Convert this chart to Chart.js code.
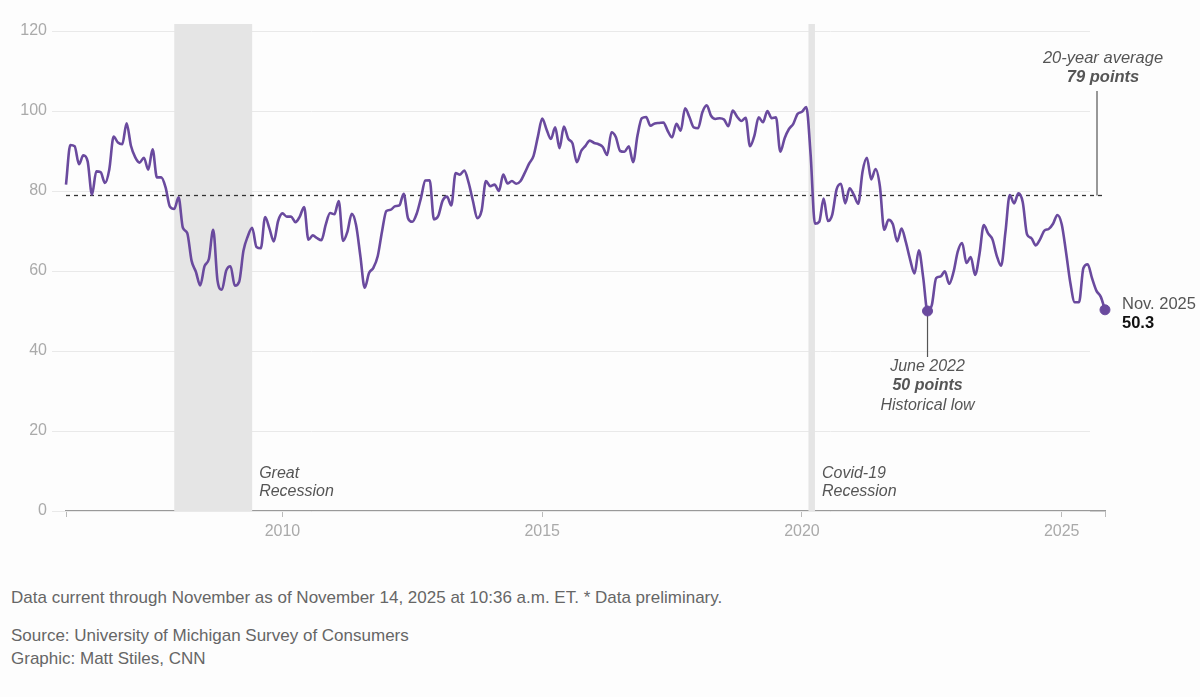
<!DOCTYPE html>
<html>
<head>
<meta charset="utf-8">
<script src="https://cdn.jsdelivr.net/npm/chart.js@4.4.1/dist/chart.umd.min.js"></script>
<style>
    body { margin: 0; background: #fdfdfd; font-family: "Liberation Sans", Arial, sans-serif; }
    #wrap { position: relative; width: 1200px; height: 697px; overflow: hidden; }
    #chart-box { position: absolute; left: 0; top: 0; width: 1200px; height: 560px; }
    .note { position: absolute; left: 11px; color: #666; font-size: 17px; white-space: nowrap; }
</style>
</head>
<body>
<div id="wrap">
    <div id="chart-box"><canvas id="sentimentChart"></canvas></div>
    <div class="note" style="top:588px">Data current through November as of November 14, 2025 at 10:36 a.m. ET. * Data preliminary.</div>
    <div class="note" style="top:626px">Source: University of Michigan Survey of Consumers</div>
    <div class="note" style="top:649px">Graphic: Matt Stiles, CNN</div>
</div>
<script>
// Monthly index values, first value is November 2005
const startYear = 2005;
const startMonth = 11;
const sentiment = [
    81.6, 91.5,
    91.2, 86.7, 88.9, 87.4, 79.1, 84.9, 84.7, 82.0, 85.4, 93.6, 92.1, 91.7,   // 2006
    96.9, 91.3, 88.4, 87.1, 88.3, 85.3, 90.4, 83.4, 83.4, 80.9, 76.1, 75.5,   // 2007
    78.4, 70.8, 69.5, 62.6, 59.8, 56.4, 61.2, 63.0, 70.3, 57.6, 55.3, 60.1,   // 2008
    61.2, 56.3, 57.3, 65.1, 68.7, 70.8, 66.0, 65.7, 73.5, 70.6, 67.4, 72.5,   // 2009
    74.4, 73.6, 73.6, 72.2, 73.6, 76.0, 67.8, 68.9, 68.2, 67.7, 71.6, 74.5,   // 2010
    74.2, 77.5, 67.5, 69.8, 74.3, 71.5, 63.7, 55.8, 59.5, 60.8, 63.7, 69.9,   // 2011
    75.0, 75.3, 76.2, 76.4, 79.3, 73.2, 72.3, 74.3, 78.3, 82.6, 82.7, 72.9,   // 2012
    73.8, 77.6, 78.6, 76.4, 84.5, 84.1, 85.1, 82.1, 77.5, 73.2, 75.1, 82.5,   // 2013
    81.2, 81.6, 80.0, 84.1, 81.9, 82.5, 81.8, 82.5, 84.6, 86.9, 88.8, 93.6,   // 2014
    98.1, 95.4, 93.0, 95.9, 90.7, 96.1, 93.1, 91.9, 87.2, 90.0, 91.3, 92.6,   // 2015
    92.0, 91.7, 91.0, 89.0, 94.7, 93.5, 90.0, 89.8, 91.2, 87.2, 93.8, 98.2,   // 2016
    98.5, 96.3, 96.9, 97.0, 97.1, 95.0, 93.4, 96.8, 95.1, 100.7, 98.5, 95.9,  // 2017
    95.7, 99.7, 101.4, 98.8, 98.0, 98.2, 97.9, 96.2, 100.1, 98.6, 97.5, 98.3, // 2018
    91.2, 93.8, 98.4, 97.2, 100.0, 98.2, 98.4, 89.8, 93.2, 95.5, 96.8, 99.3,  // 2019
    99.8, 101.0, 89.1, 71.8, 72.3, 78.1, 72.5, 74.1, 80.4, 81.8, 76.9, 80.7,  // 2020
    79.0, 76.8, 84.9, 88.3, 82.9, 85.5, 81.2, 70.3, 72.8, 71.7, 67.4, 70.6,   // 2021
    67.2, 62.8, 59.4, 65.2, 58.4, 50.0, 51.5, 58.2, 58.6, 59.9, 56.8, 59.7,   // 2022
    64.9, 67.0, 62.0, 63.5, 59.0, 64.2, 71.5, 69.4, 67.9, 63.8, 61.3, 69.7,   // 2023
    79.0, 76.9, 79.4, 77.2, 69.1, 68.2, 66.4, 67.9, 70.1, 70.5, 71.8, 74.0,   // 2024
    71.7, 64.7, 57.0, 52.2, 52.2, 60.7, 61.7, 58.2, 55.1, 53.6, 50.3          // 2025
];
const yearTicks = [2010, 2015, 2020, 2025];
const valueTicks = [0, 20, 40, 60, 80, 100, 120];
const recessionStart = [2007.917, 2020.125];
const recessionEnd = [2009.417, 2020.25];
const recessionLabels = [['Great', 'Recession'], ['Covid-19', 'Recession']];
const average = 79;
const lowDate = 2022.417;   // June 2022
const lowValue = 50.0;
const lastDate = 2025.833;  // Nov. 2025
const lastValue = 50.3;

const firstX = startYear + (startMonth - 1) / 12;
const points = sentiment.map((v, i) => ({ x: firstX + i / 12, y: v }));
const lastX = points[points.length - 1].x;

const FONT = '"Liberation Sans", Arial, sans-serif';
const PURPLE = '#6a4a9e';

function line(ctx, x0, y0, x1, y1) {
    ctx.beginPath();
    ctx.moveTo(x0, y0);
    ctx.lineTo(x1, y1);
    ctx.stroke();
}

const annotations = {
    id: 'annotations',
    beforeDatasetsDraw(chart) {
        const { ctx, chartArea, scales: { x, y } } = chart;
        ctx.save();
        // horizontal grid
        ctx.strokeStyle = '#e9e9e9';
        ctx.lineWidth = 1;
        valueTicks.forEach(v => {
            const py = Math.round(y.getPixelForValue(v)) + 0.5;
            line(ctx, 52, py, 1090, py);
        });
        // recession bands
        ctx.fillStyle = '#e5e5e5';
        recessionStart.forEach((s, i) => {
            const x0 = x.getPixelForValue(s);
            const x1 = x.getPixelForValue(recessionEnd[i]);
            ctx.fillRect(x0, chartArea.top - 7, x1 - x0, chartArea.bottom - chartArea.top + 7);
        });
        // 20-year average
        const ay = Math.round(y.getPixelForValue(average)) + 0.5;
        ctx.strokeStyle = '#333';
        ctx.lineWidth = 1.3;
        ctx.setLineDash([4, 4]);
        line(ctx, x.getPixelForValue(firstX), ay, chartArea.right, ay);
        ctx.setLineDash([]);
        ctx.strokeStyle = '#555';
        ctx.lineWidth = 1.2;
        line(ctx, 1097, 91, 1097, ay);
        // June 2022 leader
        const lx = x.getPixelForValue(lowDate);
        line(ctx, lx, y.getPixelForValue(lowValue), lx, 357);
        ctx.restore();
    },
    afterDraw(chart) {
        const { ctx, scales: { x, y } } = chart;
        ctx.save();
        ctx.textBaseline = 'middle';
        ctx.fillStyle = '#555';
        // recession labels
        ctx.textAlign = 'left';
        ctx.font = 'italic 16px ' + FONT;
        recessionLabels.forEach((lbl, i) => {
            const px = x.getPixelForValue(recessionEnd[i]) + 7;
            ctx.fillText(lbl[0], px, 474);
            ctx.fillText(lbl[1], px, 492);
        });
        // average label
        ctx.textAlign = 'center';
        ctx.font = 'italic 16.5px ' + FONT;
        ctx.fillText('20-year average', 1103, 58);
        ctx.font = 'italic bold 16.5px ' + FONT;
        ctx.fillText(average + ' points', 1103, 77);
        // June 2022 label
        const lx = x.getPixelForValue(lowDate);
        ctx.font = 'italic 16px ' + FONT;
        ctx.fillText('June 2022', lx, 367);
        ctx.font = 'italic bold 16px ' + FONT;
        ctx.fillText(lowValue + ' points', lx, 386);
        ctx.font = 'italic 16px ' + FONT;
        ctx.fillText('Historical low', lx, 406);
        // last value label
        const ex = x.getPixelForValue(lastDate) + 17;
        const ey = y.getPixelForValue(lastValue);
        ctx.textAlign = 'left';
        ctx.font = '16.5px ' + FONT;
        ctx.fillText('Nov. 2025', ex, ey - 5);
        ctx.fillStyle = '#111';
        ctx.font = 'bold 16.5px ' + FONT;
        ctx.fillText(lastValue.toFixed(1), ex, ey + 14);
        ctx.restore();
    }
};

new Chart(document.getElementById('sentimentChart'), {
    type: 'line',
    data: {
        datasets: [
            {
                data: points,
                borderColor: PURPLE,
                borderWidth: 2.6,
                pointRadius: 0,
                cubicInterpolationMode: 'monotone',
                clip: false
            },
            {
                type: 'scatter',
                data: [{ x: lowDate, y: lowValue }, { x: lastDate, y: lastValue }],
                backgroundColor: PURPLE,
                borderColor: PURPLE,
                pointRadius: 5,
                clip: false
            }
        ]
    },
    options: {
        responsive: true,
        maintainAspectRatio: false,
        animation: false,
        layout: { padding: { top: 31, right: 95, left: 0, bottom: 0 } },
        plugins: { legend: { display: false }, tooltip: { enabled: false } },
        scales: {
            x: {
                type: 'linear',
                min: firstX,
                max: lastX,
                afterBuildTicks: scale => {
                    scale.ticks = [firstX].concat(yearTicks, [lastX]).map(v => ({ value: v }));
                },
                afterFit: scale => { scale.height = 49; },
                ticks: {
                    autoSkip: false,
                    maxRotation: 0,
                    color: '#aaa',
                    font: { family: FONT, size: 16 },
                    padding: 5,
                    callback: v => yearTicks.includes(v) ? String(v) : ''
                },
                grid: { drawOnChartArea: false, drawTicks: true, tickLength: 6, color: '#bbb' },
                border: { display: true, color: '#999', width: 1.5 }
            },
            y: {
                min: 0,
                max: 120,
                afterBuildTicks: scale => {
                    scale.ticks = valueTicks.map(v => ({ value: v }));
                },
                afterFit: scale => { scale.width = 66; },
                ticks: {
                    color: '#aaa',
                    font: { family: FONT, size: 16 },
                    padding: 19
                },
                grid: { display: false, drawTicks: false },
                border: { display: false }
            }
        }
    },
    plugins: [annotations]
});
</script>
</body>
</html>
